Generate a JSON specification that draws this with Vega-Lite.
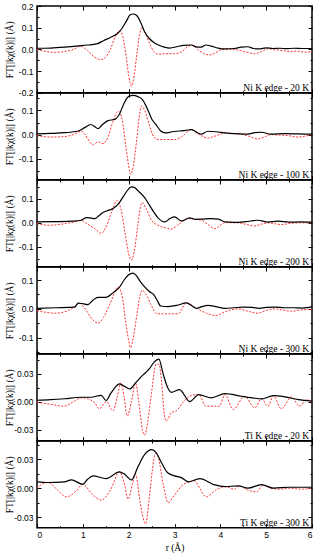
{
  "$schema": "https://vega.github.io/schema/vega-lite/v6.json",
  "padding": {"left": 3, "top": 1, "right": 2, "bottom": 0},
  "spacing": 0,
  "bounds": "flush",
  "config": {
    "view": {"stroke": "black", "strokeWidth": 1.5},
    "axis": {"domain": false, "grid": false, "tickColor": "black", "tickWidth": 1, "labelFont": "Liberation Sans", "labelFontSize": 8.5, "labelColor": "black", "titleFont": "Liberation Serif", "titleFontSize": 9.5, "titleFontWeight": "normal", "titleColor": "black"}
  },
  "datasets": {
    "n20m": [{"r":0,"v":0.005},{"r":0.3,"v":0.006},{"r":0.6,"v":0.01},{"r":0.9,"v":0.016},{"r":1.1,"v":0.02},{"r":1.3,"v":0.025},{"r":1.45,"v":0.04},{"r":1.6,"v":0.055},{"r":1.75,"v":0.072},{"r":1.85,"v":0.095},{"r":1.95,"v":0.13},{"r":2.03,"v":0.158},{"r":2.1,"v":0.163},{"r":2.17,"v":0.157},{"r":2.25,"v":0.13},{"r":2.35,"v":0.08},{"r":2.45,"v":0.05},{"r":2.55,"v":0.032},{"r":2.65,"v":0.02},{"r":2.78,"v":0.01},{"r":2.9,"v":0.006},{"r":3.05,"v":0.012},{"r":3.2,"v":0.018},{"r":3.36,"v":0.02},{"r":3.5,"v":0.01},{"r":3.58,"v":0.01},{"r":3.69,"v":0.02},{"r":3.8,"v":0.015},{"r":3.95,"v":0.006},{"r":4.1,"v":0.002},{"r":4.3,"v":0.004},{"r":4.45,"v":0.01},{"r":4.6,"v":0.012},{"r":4.72,"v":0.004},{"r":4.85,"v":0.002},{"r":5.0,"v":0.007},{"r":5.15,"v":0.004},{"r":5.3,"v":0.005},{"r":5.45,"v":0.003},{"r":5.6,"v":0.005},{"r":5.8,"v":0.004},{"r":6.0,"v":0.004}],
    "n20i": [{"r":0,"v":0},{"r":0.2,"v":-0.01},{"r":0.4,"v":-0.014},{"r":0.6,"v":-0.01},{"r":0.8,"v":0.0},{"r":0.95,"v":0.015},{"r":1.1,"v":-0.005},{"r":1.25,"v":-0.035},{"r":1.4,"v":-0.047},{"r":1.5,"v":-0.035},{"r":1.6,"v":0.0},{"r":1.7,"v":0.055},{"r":1.8,"v":0.086},{"r":1.87,"v":0.06},{"r":1.95,"v":-0.04},{"r":2.0,"v":-0.12},{"r":2.06,"v":-0.17},{"r":2.12,"v":-0.12},{"r":2.18,"v":-0.02},{"r":2.24,"v":0.07},{"r":2.29,"v":0.1},{"r":2.35,"v":0.08},{"r":2.45,"v":0.03},{"r":2.55,"v":-0.01},{"r":2.65,"v":-0.022},{"r":2.8,"v":-0.02},{"r":3.0,"v":-0.02},{"r":3.15,"v":-0.012},{"r":3.3,"v":0.015},{"r":3.38,"v":0.02},{"r":3.5,"v":0.0},{"r":3.65,"v":-0.02},{"r":3.77,"v":-0.026},{"r":3.9,"v":-0.015},{"r":4.05,"v":0.0},{"r":4.2,"v":0.0},{"r":4.35,"v":-0.002},{"r":4.55,"v":-0.012},{"r":4.75,"v":-0.02},{"r":4.9,"v":-0.01},{"r":5.05,"v":0.003},{"r":5.2,"v":-0.002},{"r":5.35,"v":-0.005},{"r":5.5,"v":-0.01},{"r":5.65,"v":-0.008},{"r":5.85,"v":-0.013},{"r":6.0,"v":-0.01}],
    "n100m": [{"r":0,"v":0.003},{"r":0.3,"v":0.005},{"r":0.6,"v":0.008},{"r":0.9,"v":0.015},{"r":1.05,"v":0.03},{"r":1.17,"v":0.042},{"r":1.27,"v":0.032},{"r":1.33,"v":0.025},{"r":1.42,"v":0.04},{"r":1.55,"v":0.058},{"r":1.7,"v":0.063},{"r":1.8,"v":0.085},{"r":1.9,"v":0.13},{"r":2.0,"v":0.158},{"r":2.1,"v":0.162},{"r":2.2,"v":0.157},{"r":2.3,"v":0.145},{"r":2.4,"v":0.11},{"r":2.5,"v":0.066},{"r":2.6,"v":0.04},{"r":2.7,"v":0.015},{"r":2.8,"v":0.007},{"r":2.95,"v":0.012},{"r":3.1,"v":0.015},{"r":3.25,"v":0.018},{"r":3.37,"v":0.021},{"r":3.5,"v":0.008},{"r":3.58,"v":0.002},{"r":3.73,"v":0.014},{"r":3.9,"v":0.012},{"r":4.1,"v":0.007},{"r":4.3,"v":0.004},{"r":4.45,"v":0.003},{"r":4.6,"v":0.002},{"r":4.75,"v":0.008},{"r":4.9,"v":0.01},{"r":5.1,"v":0.002},{"r":5.4,"v":0.004},{"r":5.7,"v":0.003},{"r":6.0,"v":0.002}],
    "n100i": [{"r":0,"v":-0.004},{"r":0.3,"v":-0.01},{"r":0.6,"v":-0.008},{"r":0.85,"v":0.005},{"r":0.96,"v":0.015},{"r":1.05,"v":0.0},{"r":1.15,"v":-0.03},{"r":1.22,"v":-0.042},{"r":1.33,"v":-0.03},{"r":1.44,"v":-0.037},{"r":1.55,"v":-0.01},{"r":1.65,"v":0.05},{"r":1.78,"v":0.097},{"r":1.86,"v":0.06},{"r":1.94,"v":-0.05},{"r":2.0,"v":-0.13},{"r":2.04,"v":-0.164},{"r":2.1,"v":-0.13},{"r":2.17,"v":-0.03},{"r":2.23,"v":0.07},{"r":2.28,"v":0.118},{"r":2.35,"v":0.1},{"r":2.45,"v":0.04},{"r":2.55,"v":-0.01},{"r":2.64,"v":-0.02},{"r":2.8,"v":-0.02},{"r":3.0,"v":-0.02},{"r":3.15,"v":-0.01},{"r":3.3,"v":0.015},{"r":3.37,"v":0.021},{"r":3.5,"v":0.005},{"r":3.58,"v":-0.004},{"r":3.73,"v":-0.014},{"r":3.9,"v":-0.005},{"r":4.1,"v":0.007},{"r":4.25,"v":0.005},{"r":4.42,"v":0.003},{"r":4.6,"v":-0.005},{"r":4.82,"v":-0.018},{"r":4.95,"v":-0.01},{"r":5.1,"v":0.0},{"r":5.3,"v":-0.002},{"r":5.48,"v":-0.004},{"r":5.7,"v":-0.01},{"r":5.85,"v":-0.006},{"r":6.0,"v":0.0}],
    "n200m": [{"r":0,"v":0.004},{"r":0.4,"v":0.005},{"r":0.8,"v":0.007},{"r":0.96,"v":0.011},{"r":1.08,"v":0.022},{"r":1.18,"v":0.02},{"r":1.26,"v":0.018},{"r":1.35,"v":0.03},{"r":1.44,"v":0.043},{"r":1.55,"v":0.052},{"r":1.66,"v":0.06},{"r":1.78,"v":0.08},{"r":1.9,"v":0.115},{"r":2.0,"v":0.142},{"r":2.06,"v":0.15},{"r":2.12,"v":0.148},{"r":2.2,"v":0.135},{"r":2.35,"v":0.105},{"r":2.45,"v":0.075},{"r":2.55,"v":0.045},{"r":2.64,"v":0.021},{"r":2.79,"v":0.004},{"r":2.9,"v":0.018},{"r":3.0,"v":0.025},{"r":3.15,"v":0.008},{"r":3.33,"v":0.021},{"r":3.45,"v":0.015},{"r":3.6,"v":0.016},{"r":3.8,"v":0.018},{"r":3.96,"v":0.016},{"r":4.1,"v":0.004},{"r":4.31,"v":0.002},{"r":4.55,"v":0.005},{"r":4.82,"v":0.011},{"r":5.04,"v":0.003},{"r":5.26,"v":0.007},{"r":5.5,"v":0.003},{"r":5.75,"v":0.004},{"r":6.0,"v":0.003}],
    "n200i": [{"r":0,"v":-0.003},{"r":0.24,"v":-0.01},{"r":0.5,"v":-0.006},{"r":0.8,"v":0.003},{"r":0.96,"v":0.01},{"r":1.1,"v":-0.005},{"r":1.26,"v":-0.024},{"r":1.4,"v":-0.044},{"r":1.5,"v":-0.02},{"r":1.62,"v":0.04},{"r":1.75,"v":0.094},{"r":1.83,"v":0.06},{"r":1.92,"v":-0.04},{"r":2.0,"v":-0.13},{"r":2.06,"v":-0.156},{"r":2.12,"v":-0.12},{"r":2.2,"v":-0.01},{"r":2.25,"v":0.06},{"r":2.29,"v":0.085},{"r":2.38,"v":0.06},{"r":2.5,"v":0.01},{"r":2.64,"v":-0.01},{"r":2.8,"v":-0.02},{"r":2.93,"v":-0.026},{"r":3.1,"v":-0.005},{"r":3.3,"v":0.018},{"r":3.45,"v":0.015},{"r":3.59,"v":0.011},{"r":3.75,"v":-0.01},{"r":3.88,"v":-0.024},{"r":4.0,"v":-0.01},{"r":4.1,"v":0.001},{"r":4.39,"v":0.0},{"r":4.6,"v":-0.008},{"r":4.75,"v":-0.013},{"r":4.9,"v":-0.005},{"r":5.04,"v":0.0},{"r":5.2,"v":-0.004},{"r":5.33,"v":-0.007},{"r":5.5,"v":-0.003},{"r":5.7,"v":0.0},{"r":6.0,"v":0.0}],
    "n300m": [{"r":0,"v":0.002},{"r":0.4,"v":0.004},{"r":0.82,"v":0.006},{"r":0.9,"v":0.02},{"r":1.0,"v":0.018},{"r":1.11,"v":0.015},{"r":1.22,"v":0.03},{"r":1.33,"v":0.04},{"r":1.5,"v":0.04},{"r":1.66,"v":0.056},{"r":1.8,"v":0.075},{"r":1.9,"v":0.1},{"r":2.0,"v":0.118},{"r":2.09,"v":0.124},{"r":2.17,"v":0.115},{"r":2.25,"v":0.095},{"r":2.35,"v":0.076},{"r":2.45,"v":0.06},{"r":2.56,"v":0.047},{"r":2.62,"v":0.03},{"r":2.7,"v":0.01},{"r":2.86,"v":0.008},{"r":3.05,"v":0.012},{"r":3.26,"v":0.021},{"r":3.48,"v":0.002},{"r":3.6,"v":0.008},{"r":3.73,"v":0.012},{"r":3.9,"v":0.008},{"r":4.1,"v":0.002},{"r":4.3,"v":0.004},{"r":4.5,"v":0.006},{"r":4.7,"v":0.005},{"r":4.85,"v":0.002},{"r":5.0,"v":0.005},{"r":5.2,"v":0.006},{"r":5.4,"v":0.004},{"r":5.6,"v":0.004},{"r":5.8,"v":0.003},{"r":6.0,"v":0.008}],
    "n300i": [{"r":0,"v":-0.006},{"r":0.2,"v":-0.012},{"r":0.39,"v":-0.015},{"r":0.6,"v":-0.01},{"r":0.8,"v":0.005},{"r":0.92,"v":0.02},{"r":1.05,"v":0.0},{"r":1.2,"v":-0.035},{"r":1.33,"v":-0.049},{"r":1.45,"v":-0.03},{"r":1.6,"v":0.02},{"r":1.77,"v":0.076},{"r":1.85,"v":0.05},{"r":1.93,"v":-0.04},{"r":2.0,"v":-0.11},{"r":2.04,"v":-0.134},{"r":2.1,"v":-0.1},{"r":2.18,"v":-0.02},{"r":2.24,"v":0.04},{"r":2.29,"v":0.064},{"r":2.38,"v":0.05},{"r":2.5,"v":0.01},{"r":2.62,"v":-0.017},{"r":2.8,"v":-0.017},{"r":3.08,"v":-0.017},{"r":3.26,"v":0.021},{"r":3.48,"v":0.002},{"r":3.7,"v":-0.015},{"r":3.91,"v":-0.023},{"r":4.1,"v":-0.01},{"r":4.39,"v":0.0},{"r":4.6,"v":-0.008},{"r":4.82,"v":-0.015},{"r":5.0,"v":-0.005},{"r":5.19,"v":0.0},{"r":5.4,"v":-0.005},{"r":5.55,"v":-0.008},{"r":5.8,"v":-0.003},{"r":6.0,"v":-0.002}],
    "t20m": [{"r":0,"v":0.0014},{"r":0.3,"v":0.002},{"r":0.6,"v":0.003},{"r":0.96,"v":0.0046},{"r":1.18,"v":0.0046},{"r":1.4,"v":0.0067},{"r":1.51,"v":0.001},{"r":1.6,"v":0.008},{"r":1.7,"v":0.015},{"r":1.8,"v":0.019},{"r":1.92,"v":0.016},{"r":2.02,"v":0.0135},{"r":2.15,"v":0.02},{"r":2.28,"v":0.027},{"r":2.45,"v":0.035},{"r":2.55,"v":0.042},{"r":2.66,"v":0.0455},{"r":2.75,"v":0.03},{"r":2.85,"v":0.015},{"r":2.93,"v":0.0099},{"r":3.11,"v":0.0128},{"r":3.33,"v":0.0},{"r":3.53,"v":0.0075},{"r":3.8,"v":0.004},{"r":4.1,"v":0.0085},{"r":4.46,"v":0.0057},{"r":4.7,"v":0.004},{"r":4.9,"v":0.0028},{"r":5.16,"v":0.0064},{"r":5.41,"v":0.005},{"r":5.7,"v":0.002},{"r":6.0,"v":0.0004}],
    "t20i": [{"r":0,"v":-0.0007},{"r":0.3,"v":-0.003},{"r":0.6,"v":-0.005},{"r":0.8,"v":0.0},{"r":0.96,"v":0.004},{"r":1.1,"v":0.003},{"r":1.26,"v":-0.0014},{"r":1.36,"v":-0.0078},{"r":1.51,"v":0.0},{"r":1.66,"v":-0.01},{"r":1.75,"v":0.005},{"r":1.83,"v":0.0199},{"r":1.9,"v":0.005},{"r":1.97,"v":-0.0156},{"r":2.06,"v":0.0},{"r":2.15,"v":0.0199},{"r":2.22,"v":0.0},{"r":2.3,"v":-0.03},{"r":2.35,"v":-0.036},{"r":2.42,"v":-0.02},{"r":2.5,"v":0.01},{"r":2.6,"v":0.04},{"r":2.66,"v":0.04},{"r":2.72,"v":0.02},{"r":2.77,"v":-0.01},{"r":2.82,"v":-0.021},{"r":2.93,"v":-0.012},{"r":3.04,"v":-0.01},{"r":3.2,"v":0.0},{"r":3.4,"v":0.007},{"r":3.53,"v":0.0075},{"r":3.69,"v":-0.005},{"r":3.98,"v":-0.005},{"r":4.1,"v":0.0075},{"r":4.28,"v":-0.0085},{"r":4.53,"v":0.0057},{"r":4.75,"v":-0.0067},{"r":4.9,"v":0.003},{"r":5.04,"v":-0.005},{"r":5.16,"v":0.006},{"r":5.33,"v":-0.0078},{"r":5.55,"v":0.005},{"r":5.73,"v":-0.005},{"r":5.88,"v":0.002},{"r":6.0,"v":-0.0007}],
    "t300m": [{"r":0,"v":0.0066},{"r":0.24,"v":0.0059},{"r":0.6,"v":0.0066},{"r":0.75,"v":0.0086},{"r":1.0,"v":0.004},{"r":1.1,"v":0.009},{"r":1.22,"v":0.0128},{"r":1.51,"v":0.01},{"r":1.8,"v":0.017},{"r":1.9,"v":0.015},{"r":2.06,"v":0.0086},{"r":2.2,"v":0.022},{"r":2.35,"v":0.035},{"r":2.5,"v":0.04},{"r":2.6,"v":0.037},{"r":2.7,"v":0.028},{"r":2.85,"v":0.016},{"r":3.0,"v":0.0128},{"r":3.15,"v":0.011},{"r":3.3,"v":0.0066},{"r":3.55,"v":0.01},{"r":3.88,"v":0.0034},{"r":4.1,"v":0.0017},{"r":4.39,"v":0.0024},{"r":4.6,"v":0.0},{"r":4.9,"v":0.0038},{"r":5.16,"v":0.0},{"r":5.5,"v":0.001},{"r":6.0,"v":0.001}],
    "t300i": [{"r":0,"v":0.0},{"r":0.1,"v":0.004},{"r":0.24,"v":0.006},{"r":0.45,"v":-0.002},{"r":0.64,"v":-0.009},{"r":0.85,"v":-0.003},{"r":1.0,"v":0.004},{"r":1.2,"v":-0.006},{"r":1.4,"v":-0.0124},{"r":1.6,"v":-0.002},{"r":1.8,"v":0.017},{"r":1.9,"v":0.006},{"r":1.99,"v":-0.0114},{"r":2.08,"v":0.004},{"r":2.15,"v":0.0145},{"r":2.25,"v":-0.015},{"r":2.37,"v":-0.037},{"r":2.45,"v":-0.01},{"r":2.52,"v":0.02},{"r":2.58,"v":0.036},{"r":2.64,"v":0.033},{"r":2.75,"v":0.005},{"r":2.86,"v":-0.015},{"r":3.0,"v":-0.007},{"r":3.2,"v":0.004},{"r":3.44,"v":0.0076},{"r":3.55,"v":0.0},{"r":3.69,"v":-0.009},{"r":3.9,"v":-0.002},{"r":4.1,"v":0.0017},{"r":4.3,"v":-0.001},{"r":4.42,"v":0.0024},{"r":4.6,"v":-0.002},{"r":4.79,"v":-0.0038},{"r":4.93,"v":0.003},{"r":5.1,"v":0.0},{"r":5.3,"v":-0.001},{"r":5.5,"v":0.0},{"r":5.8,"v":-0.001},{"r":6.0,"v":0.0}]
  },
  "vconcat": [
    {"width": 275, "height": 86.7,
     "layer": [
      {"data": {"name": "n20i"}, "mark": {"type": "line", "color": "#ff3333", "strokeWidth": 1, "strokeDash": [2, 1.5], "interpolate": "monotone"},
       "encoding": {"x": {"field": "r", "type": "quantitative", "scale": {"domain": [0, 6], "nice": false}, "axis": {"orient": "top", "values": [0,0.5,1,1.5,2,2.5,3,3.5,4,4.5,5,5.5,6], "labels": false, "title": null, "tickSize": {"condition": {"test": "datum.value % 1 != 0", "value": -2}, "value": -4}}},
                    "y": {"field": "v", "type": "quantitative", "scale": {"domain": [-0.2, 0.2], "nice": false, "zero": false}, "axis": {"orient": "right", "values": [-0.2,-0.15,-0.1,-0.05,0,0.05,0.1,0.15,0.2], "labels": false, "title": null, "tickSize": {"condition": {"test": "abs(round(datum.value*100)) % 10 != 0", "value": -2}, "value": -4}}}}},
      {"data": {"name": "n20m"}, "mark": {"type": "line", "color": "black", "strokeWidth": 1.2, "interpolate": "monotone"},
       "encoding": {"x": {"field": "r", "type": "quantitative", "scale": {"domain": [0, 6], "nice": false}, "axis": {"orient": "bottom", "values": [0,0.5,1,1.5,2,2.5,3,3.5,4,4.5,5,5.5,6], "labels": false, "title": null, "tickSize": {"condition": {"test": "datum.value % 1 != 0", "value": -2}, "value": -4}}},
                    "y": {"field": "v", "type": "quantitative", "scale": {"domain": [-0.2, 0.2], "nice": false, "zero": false}, "axis": {"orient": "left", "values": [-0.2,-0.15,-0.1,-0.05,0,0.05,0.1,0.15,0.2], "labelExpr": "abs(round(datum.value*100)) % 10 == 0 ? replace(format(datum.value, '.1f'), '−', '-') : ''", "labelPadding": 8, "title": "FT[|kχ(k)|] (Å)", "titleX": -23, "tickSize": {"condition": {"test": "abs(round(datum.value*100)) % 10 != 0", "value": -2}, "value": -4}}}}},
      {"data": {"values": [{"label": "Ni K edge - 20 K"}]}, "mark": {"type": "text", "align": "right", "baseline": "alphabetic", "dx": -3, "dy": -1.5, "font": "Liberation Serif", "fontSize": 9.5, "color": "black"},
       "encoding": {"x": {"datum": 6, "type": "quantitative", "scale": {"domain": [0, 6], "nice": false}, "axis": null}, "y": {"datum": -0.2, "type": "quantitative", "scale": {"domain": [-0.2, 0.2], "nice": false, "zero": false}, "axis": null}, "text": {"field": "label"}}}
     ],
     "resolve": {"scale": {"x": "independent", "y": "independent"}}},
    {"width": 275, "height": 86.7,
     "layer": [
      {"data": {"name": "n100i"}, "mark": {"type": "line", "color": "#ff3333", "strokeWidth": 1, "strokeDash": [2, 1.5], "interpolate": "monotone"},
       "encoding": {"x": {"field": "r", "type": "quantitative", "scale": {"domain": [0, 6], "nice": false}, "axis": {"orient": "top", "values": [0,0.5,1,1.5,2,2.5,3,3.5,4,4.5,5,5.5,6], "labels": false, "title": null, "tickSize": {"condition": {"test": "datum.value % 1 != 0", "value": -2}, "value": -4}}},
                    "y": {"field": "v", "type": "quantitative", "scale": {"domain": [-0.186, 0.172], "nice": false, "zero": false}, "axis": {"orient": "right", "values": [-0.15,-0.1,-0.05,0,0.05,0.1,0.15], "labels": false, "title": null, "tickSize": {"condition": {"test": "abs(round(datum.value*100)) % 10 != 0", "value": -2}, "value": -4}}}}},
      {"data": {"name": "n100m"}, "mark": {"type": "line", "color": "black", "strokeWidth": 1.2, "interpolate": "monotone"},
       "encoding": {"x": {"field": "r", "type": "quantitative", "scale": {"domain": [0, 6], "nice": false}, "axis": {"orient": "bottom", "values": [0,0.5,1,1.5,2,2.5,3,3.5,4,4.5,5,5.5,6], "labels": false, "title": null, "tickSize": {"condition": {"test": "datum.value % 1 != 0", "value": -2}, "value": -4}}},
                    "y": {"field": "v", "type": "quantitative", "scale": {"domain": [-0.186, 0.172], "nice": false, "zero": false}, "axis": {"orient": "left", "values": [-0.15,-0.1,-0.05,0,0.05,0.1,0.15], "labelExpr": "abs(round(datum.value*100)) % 10 == 0 ? replace(format(datum.value, '.1f'), '−', '-') : ''", "labelPadding": 8, "title": "FT[|kχ(k)|] (Å)", "titleX": -23, "tickSize": {"condition": {"test": "abs(round(datum.value*100)) % 10 != 0", "value": -2}, "value": -4}}}}},
      {"data": {"values": [{"label": "Ni K edge - 100 K"}]}, "mark": {"type": "text", "align": "right", "baseline": "alphabetic", "dx": -3, "dy": -1.5, "font": "Liberation Serif", "fontSize": 9.5, "color": "black"},
       "encoding": {"x": {"datum": 6, "type": "quantitative", "scale": {"domain": [0, 6], "nice": false}, "axis": null}, "y": {"datum": -0.186, "type": "quantitative", "scale": {"domain": [-0.186, 0.172], "nice": false, "zero": false}, "axis": null}, "text": {"field": "label"}}}
     ],
     "resolve": {"scale": {"x": "independent", "y": "independent"}}},
    {"width": 275, "height": 86.7,
     "layer": [
      {"data": {"name": "n200i"}, "mark": {"type": "line", "color": "#ff3333", "strokeWidth": 1, "strokeDash": [2, 1.5], "interpolate": "monotone"},
       "encoding": {"x": {"field": "r", "type": "quantitative", "scale": {"domain": [0, 6], "nice": false}, "axis": {"orient": "top", "values": [0,0.5,1,1.5,2,2.5,3,3.5,4,4.5,5,5.5,6], "labels": false, "title": null, "tickSize": {"condition": {"test": "datum.value % 1 != 0", "value": -2}, "value": -4}}},
                    "y": {"field": "v", "type": "quantitative", "scale": {"domain": [-0.183, 0.179], "nice": false, "zero": false}, "axis": {"orient": "right", "values": [-0.15,-0.1,-0.05,0,0.05,0.1,0.15], "labels": false, "title": null, "tickSize": {"condition": {"test": "abs(round(datum.value*100)) % 10 != 0", "value": -2}, "value": -4}}}}},
      {"data": {"name": "n200m"}, "mark": {"type": "line", "color": "black", "strokeWidth": 1.2, "interpolate": "monotone"},
       "encoding": {"x": {"field": "r", "type": "quantitative", "scale": {"domain": [0, 6], "nice": false}, "axis": {"orient": "bottom", "values": [0,0.5,1,1.5,2,2.5,3,3.5,4,4.5,5,5.5,6], "labels": false, "title": null, "tickSize": {"condition": {"test": "datum.value % 1 != 0", "value": -2}, "value": -4}}},
                    "y": {"field": "v", "type": "quantitative", "scale": {"domain": [-0.183, 0.179], "nice": false, "zero": false}, "axis": {"orient": "left", "values": [-0.15,-0.1,-0.05,0,0.05,0.1,0.15], "labelExpr": "abs(round(datum.value*100)) % 10 == 0 ? replace(format(datum.value, '.1f'), '−', '-') : ''", "labelPadding": 8, "title": "FT[|kχ(k)|] (Å)", "titleX": -23, "tickSize": {"condition": {"test": "abs(round(datum.value*100)) % 10 != 0", "value": -2}, "value": -4}}}}},
      {"data": {"values": [{"label": "Ni K edge - 200 K"}]}, "mark": {"type": "text", "align": "right", "baseline": "alphabetic", "dx": -3, "dy": -1.5, "font": "Liberation Serif", "fontSize": 9.5, "color": "black"},
       "encoding": {"x": {"datum": 6, "type": "quantitative", "scale": {"domain": [0, 6], "nice": false}, "axis": null}, "y": {"datum": -0.183, "type": "quantitative", "scale": {"domain": [-0.183, 0.179], "nice": false, "zero": false}, "axis": null}, "text": {"field": "label"}}}
     ],
     "resolve": {"scale": {"x": "independent", "y": "independent"}}},
    {"width": 275, "height": 86.7,
     "layer": [
      {"data": {"name": "n300i"}, "mark": {"type": "line", "color": "#ff3333", "strokeWidth": 1, "strokeDash": [2, 1.5], "interpolate": "monotone"},
       "encoding": {"x": {"field": "r", "type": "quantitative", "scale": {"domain": [0, 6], "nice": false}, "axis": {"orient": "top", "values": [0,0.5,1,1.5,2,2.5,3,3.5,4,4.5,5,5.5,6], "labels": false, "title": null, "tickSize": {"condition": {"test": "datum.value % 1 != 0", "value": -2}, "value": -4}}},
                    "y": {"field": "v", "type": "quantitative", "scale": {"domain": [-0.155, 0.145], "nice": false, "zero": false}, "axis": {"orient": "right", "values": [-0.15,-0.1,-0.05,0,0.05,0.1], "labels": false, "title": null, "tickSize": {"condition": {"test": "abs(round(datum.value*100)) % 10 != 0", "value": -2}, "value": -4}}}}},
      {"data": {"name": "n300m"}, "mark": {"type": "line", "color": "black", "strokeWidth": 1.2, "interpolate": "monotone"},
       "encoding": {"x": {"field": "r", "type": "quantitative", "scale": {"domain": [0, 6], "nice": false}, "axis": {"orient": "bottom", "values": [0,0.5,1,1.5,2,2.5,3,3.5,4,4.5,5,5.5,6], "labels": false, "title": null, "tickSize": {"condition": {"test": "datum.value % 1 != 0", "value": -2}, "value": -4}}},
                    "y": {"field": "v", "type": "quantitative", "scale": {"domain": [-0.155, 0.145], "nice": false, "zero": false}, "axis": {"orient": "left", "values": [-0.15,-0.1,-0.05,0,0.05,0.1], "labelExpr": "abs(round(datum.value*100)) % 10 == 0 ? replace(format(datum.value, '.1f'), '−', '-') : ''", "labelPadding": 8, "title": "FT[|kχ(k)|] (Å)", "titleX": -23, "tickSize": {"condition": {"test": "abs(round(datum.value*100)) % 10 != 0", "value": -2}, "value": -4}}}}},
      {"data": {"values": [{"label": "Ni K edge - 300 K"}]}, "mark": {"type": "text", "align": "right", "baseline": "alphabetic", "dx": -3, "dy": -1.5, "font": "Liberation Serif", "fontSize": 9.5, "color": "black"},
       "encoding": {"x": {"datum": 6, "type": "quantitative", "scale": {"domain": [0, 6], "nice": false}, "axis": null}, "y": {"datum": -0.155, "type": "quantitative", "scale": {"domain": [-0.155, 0.145], "nice": false, "zero": false}, "axis": null}, "text": {"field": "label"}}}
     ],
     "resolve": {"scale": {"x": "independent", "y": "independent"}}},
    {"width": 275, "height": 86.7,
     "layer": [
      {"data": {"name": "t20i"}, "mark": {"type": "line", "color": "#ff3333", "strokeWidth": 1, "strokeDash": [2, 1.5], "interpolate": "monotone"},
       "encoding": {"x": {"field": "r", "type": "quantitative", "scale": {"domain": [0, 6], "nice": false}, "axis": {"orient": "top", "values": [0,0.5,1,1.5,2,2.5,3,3.5,4,4.5,5,5.5,6], "labels": false, "title": null, "tickSize": {"condition": {"test": "datum.value % 1 != 0", "value": -2}, "value": -4}}},
                    "y": {"field": "v", "type": "quantitative", "scale": {"domain": [-0.042, 0.051], "nice": false, "zero": false}, "axis": {"orient": "right", "values": [-0.03,-0.015,0,0.015,0.03,0.045], "labels": false, "title": null, "tickSize": {"condition": {"test": "abs(round(datum.value*1000)) % 30 != 0", "value": -2}, "value": -4}}}}},
      {"data": {"name": "t20m"}, "mark": {"type": "line", "color": "black", "strokeWidth": 1.2, "interpolate": "monotone"},
       "encoding": {"x": {"field": "r", "type": "quantitative", "scale": {"domain": [0, 6], "nice": false}, "axis": {"orient": "bottom", "values": [0,0.5,1,1.5,2,2.5,3,3.5,4,4.5,5,5.5,6], "labels": false, "title": null, "tickSize": {"condition": {"test": "datum.value % 1 != 0", "value": -2}, "value": -4}}},
                    "y": {"field": "v", "type": "quantitative", "scale": {"domain": [-0.042, 0.051], "nice": false, "zero": false}, "axis": {"orient": "left", "values": [-0.03,-0.015,0,0.015,0.03,0.045], "labelExpr": "abs(round(datum.value*1000)) % 30 == 0 ? replace(format(datum.value, '.2f'), '−', '-') : ''", "labelPadding": 8, "title": "FT[|kχ(k)|] (Å)", "titleX": -23, "tickSize": {"condition": {"test": "abs(round(datum.value*1000)) % 30 != 0", "value": -2}, "value": -4}}}}},
      {"data": {"values": [{"label": "Ti K edge - 20 K"}]}, "mark": {"type": "text", "align": "right", "baseline": "alphabetic", "dx": -3, "dy": -1.5, "font": "Liberation Serif", "fontSize": 9.5, "color": "black"},
       "encoding": {"x": {"datum": 6, "type": "quantitative", "scale": {"domain": [0, 6], "nice": false}, "axis": null}, "y": {"datum": -0.042, "type": "quantitative", "scale": {"domain": [-0.042, 0.051], "nice": false, "zero": false}, "axis": null}, "text": {"field": "label"}}}
     ],
     "resolve": {"scale": {"x": "independent", "y": "independent"}}},
    {"width": 275, "height": 86.7,
     "layer": [
      {"data": {"name": "t300i"}, "mark": {"type": "line", "color": "#ff3333", "strokeWidth": 1, "strokeDash": [2, 1.5], "interpolate": "monotone"},
       "encoding": {"x": {"field": "r", "type": "quantitative", "scale": {"domain": [0, 6], "nice": false}, "axis": {"orient": "top", "values": [0,0.5,1,1.5,2,2.5,3,3.5,4,4.5,5,5.5,6], "labels": false, "title": null, "tickSize": {"condition": {"test": "datum.value % 1 != 0", "value": -2}, "value": -4}}},
                    "y": {"field": "v", "type": "quantitative", "scale": {"domain": [-0.041, 0.049], "nice": false, "zero": false}, "axis": {"orient": "right", "values": [-0.03,-0.015,0,0.015,0.03,0.045], "labels": false, "title": null, "tickSize": {"condition": {"test": "abs(round(datum.value*1000)) % 30 != 0", "value": -2}, "value": -4}}}}},
      {"data": {"name": "t300m"}, "mark": {"type": "line", "color": "black", "strokeWidth": 1.2, "interpolate": "monotone"},
       "encoding": {"x": {"field": "r", "type": "quantitative", "scale": {"domain": [0, 6], "nice": false}, "axis": {"orient": "bottom", "values": [0,0.5,1,1.5,2,2.5,3,3.5,4,4.5,5,5.5,6], "labelExpr": "datum.value % 1 == 0 ? format(datum.value, 'd') : ''", "labelPadding": 7, "title": "r (Å)", "titlePadding": 3, "tickSize": {"condition": {"test": "datum.value % 1 != 0", "value": -2}, "value": -4}}},
                    "y": {"field": "v", "type": "quantitative", "scale": {"domain": [-0.041, 0.049], "nice": false, "zero": false}, "axis": {"orient": "left", "values": [-0.03,-0.015,0,0.015,0.03,0.045], "labelExpr": "abs(round(datum.value*1000)) % 30 == 0 ? replace(format(datum.value, '.2f'), '−', '-') : ''", "labelPadding": 8, "title": "FT[|kχ(k)|] (Å)", "titleX": -23, "tickSize": {"condition": {"test": "abs(round(datum.value*1000)) % 30 != 0", "value": -2}, "value": -4}}}}},
      {"data": {"values": [{"label": "Ti K edge - 300 K"}]}, "mark": {"type": "text", "align": "right", "baseline": "alphabetic", "dx": -3, "dy": -1.5, "font": "Liberation Serif", "fontSize": 9.5, "color": "black"},
       "encoding": {"x": {"datum": 6, "type": "quantitative", "scale": {"domain": [0, 6], "nice": false}, "axis": null}, "y": {"datum": -0.041, "type": "quantitative", "scale": {"domain": [-0.041, 0.049], "nice": false, "zero": false}, "axis": null}, "text": {"field": "label"}}}
     ],
     "resolve": {"scale": {"x": "independent", "y": "independent"}}}
  ]
}
